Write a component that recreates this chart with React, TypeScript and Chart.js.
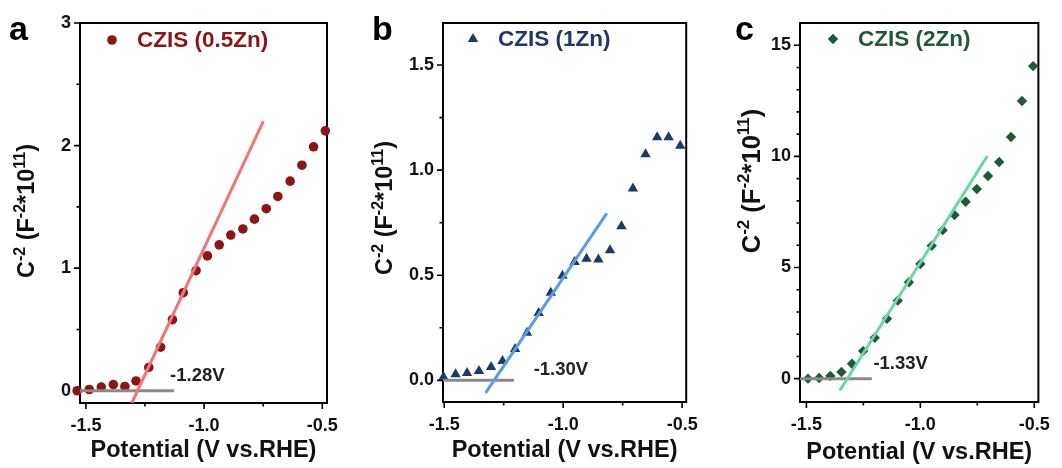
import { useEffect, useRef } from "react";
import { Chart, registerables } from "chart.js";

Chart.register(...registerables);

const FONT = "'Liberation Sans', Arial, Helvetica, sans-serif";

// ---------- Panel a : CZIS (0.5Zn) ----------
const A_POTENTIAL = [-1.537, -1.486, -1.435, -1.384, -1.335, -1.288, -1.234, -1.184, -1.134, -1.088, -1.034, -0.986, -0.936, -0.887, -0.836, -0.787, -0.737, -0.688, -0.636, -0.586, -0.537, -0.487];
const A_C2 = [0.0, 0.01, 0.03, 0.05, 0.035, 0.08, 0.19, 0.355, 0.58, 0.8, 0.98, 1.1, 1.19, 1.27, 1.32, 1.4, 1.485, 1.585, 1.71, 1.84, 1.99, 2.12];
const A_FIT_POTENTIAL = [-1.306, -0.749];
const A_FIT_C2 = [-0.1, 2.2];
const A_BASE_POTENTIAL = [-1.525, -1.127];
const A_BASE_C2 = [0, 0];
const A_X_TICKS = [-1.5, -1.25, -1.0, -0.75, -0.5];
const A_X_LABELS = ["-1.5", "", "-1.0", "", "-0.5"];
const A_Y_TICKS = [0, 0.5, 1, 1.5, 2, 2.5, 3];
const A_Y_LABELS = ["0", "", "1", "", "2", "", "3"];

// ---------- Panel b : CZIS (1Zn) ----------
const B_POTENTIAL = [-1.503, -1.452, -1.404, -1.354, -1.303, -1.255, -1.202, -1.152, -1.103, -1.052, -1.003, -0.952, -0.902, -0.852, -0.803, -0.755, -0.707, -0.654, -0.605, -0.557, -0.508];
const B_C2 = [0.016, 0.029, 0.035, 0.044, 0.063, 0.092, 0.149, 0.227, 0.32, 0.417, 0.498, 0.563, 0.579, 0.575, 0.619, 0.733, 0.913, 1.076, 1.156, 1.156, 1.116];
const B_FIT_POTENTIAL = [-1.326, -0.817];
const B_FIT_C2 = [-0.06, 0.794];
const B_BASE_POTENTIAL = [-1.505, -1.207];
const B_BASE_C2 = [0, 0];
const B_X_TICKS = [-1.5, -1.25, -1.0, -0.75, -0.5];
const B_X_LABELS = ["-1.5", "", "-1.0", "", "-0.5"];
const B_Y_TICKS = [0, 0.25, 0.5, 0.75, 1.0, 1.25, 1.5];
const B_Y_LABELS = ["0.0", "", "0.5", "", "1.0", "", "1.5"];

// ---------- Panel c : CZIS (2Zn) ----------
const C_POTENTIAL = [-1.493, -1.444, -1.395, -1.346, -1.3, -1.251, -1.2, -1.146, -1.099, -1.05, -1.0, -0.95, -0.902, -0.85, -0.801, -0.752, -0.703, -0.654, -0.602, -0.554, -0.505];
const C_C2 = [0, 0.03, 0.12, 0.3, 0.67, 1.24, 1.84, 2.69, 3.51, 4.34, 5.16, 5.98, 6.68, 7.36, 7.96, 8.53, 9.12, 9.75, 10.87, 12.49, 14.06];
const C_FIT_POTENTIAL = [-1.353, -0.706];
const C_FIT_C2 = [-0.53, 10.02];
const C_BASE_POTENTIAL = [-1.528, -1.213];
const C_BASE_C2 = [0, 0];
const C_X_TICKS = [-1.5, -1.25, -1.0, -0.75, -0.5];
const C_X_LABELS = ["-1.5", "", "-1.0", "", "-0.5"];
const C_Y_TICKS = [0, 1, 2, 3, 4, 5, 6, 7, 8, 9, 10, 11, 12, 13, 14, 15];
const C_Y_LABELS = ["0", "", "", "", "", "5", "", "", "", "", "10", "", "", "", "", "15"];

type PanelSpec = {
  letter: string;
  legend: string;
  onset: string;
  onsetAt: [number, number];
  color: string;
  fitColor: string;
  marker: "circle" | "triangle" | "rectRot";
  markerRadius: number;
  xs: number[];
  ys: number[];
  fitX: number[];
  fitY: number[];
  baseX: number[];
  baseY: number[];
  xTicks: number[];
  xLabels: string[];
  yTicks: number[];
  yLabels: string[];
  xMin: number;
  xMax: number;
  yMin: number;
  yMax: number;
  left: number;
  width: number;
  area: { l: number; t: number; r: number; b: number };
  letterPos: [number, number];
  legendPos: [number, number];
  yTitlePos: [number, number];
  yTitleSize: number;
  xTitleY: number;
};

const HEIGHT = 468;
const GRAY = "#8a8a8a";

const PANELS: PanelSpec[] = [
  {
    letter: "a", legend: "CZIS (0.5Zn)", onset: "-1.28V", onsetAt: [-1.144, 0.125],
    color: "#8b1616", fitColor: "#f27575", marker: "circle", markerRadius: 4.8,
    xs: A_POTENTIAL, ys: A_C2, fitX: A_FIT_POTENTIAL, fitY: A_FIT_C2, baseX: A_BASE_POTENTIAL, baseY: A_BASE_C2,
    xTicks: A_X_TICKS, xLabels: A_X_LABELS, yTicks: A_Y_TICKS, yLabels: A_Y_LABELS,
    xMin: -1.525, xMax: -0.48, yMin: -0.1, yMax: 3,
    left: 0, width: 355, area: { l: 80, t: 23, r: 327, b: 403 },
    letterPos: [9, 40], legendPos: [112, 40], yTitlePos: [26, 211], yTitleSize: 23.5, xTitleY: 451,
  },
  {
    letter: "b", legend: "CZIS (1Zn)", onset: "-1.30V", onsetAt: [-1.124, 0.048],
    color: "#1b3a6a", fitColor: "#5b9be6", marker: "triangle", markerRadius: 6,
    xs: B_POTENTIAL, ys: B_C2, fitX: B_FIT_POTENTIAL, fitY: B_FIT_C2, baseX: B_BASE_POTENTIAL, baseY: B_BASE_C2,
    xTicks: B_X_TICKS, xLabels: B_X_LABELS, yTicks: B_Y_TICKS, yLabels: B_Y_LABELS,
    xMin: -1.505, xMax: -0.483, yMin: -0.103, yMax: 1.7,
    left: 355, width: 355, area: { l: 88, t: 23, r: 335, b: 402 },
    letterPos: [17, 40], legendPos: [118, 39], yTitlePos: [29, 208], yTitleSize: 23.5, xTitleY: 451,
  },
  {
    letter: "c", legend: "CZIS (2Zn)", onset: "-1.33V", onsetAt: [-1.206, 0.67],
    color: "#1d5a35", fitColor: "#6bd6a0", marker: "rectRot", markerRadius: 5.2,
    xs: C_POTENTIAL, ys: C_C2, fitX: C_FIT_POTENTIAL, fitY: C_FIT_C2, baseX: C_BASE_POTENTIAL, baseY: C_BASE_C2,
    xTicks: C_X_TICKS, xLabels: C_X_LABELS, yTicks: C_Y_TICKS, yLabels: C_Y_LABELS,
    xMin: -1.528, xMax: -0.482, yMin: -1.05, yMax: 16,
    left: 710, width: 352, area: { l: 90, t: 23, r: 339, b: 402 },
    letterPos: [25, 40], legendPos: [123, 39], yTitlePos: [41, 181], yTitleSize: 25.5, xTitleY: 453,
  },
];

function drawMarker(ctx: CanvasRenderingContext2D, kind: string, x: number, y: number, r: number) {
  ctx.beginPath();
  if (kind === "circle") {
    ctx.arc(x, y, r, 0, Math.PI * 2);
  } else if (kind === "triangle") {
    ctx.moveTo(x, y - r);
    ctx.lineTo(x + 0.866 * r, y + 0.5 * r);
    ctx.lineTo(x - 0.866 * r, y + 0.5 * r);
    ctx.closePath();
  } else {
    ctx.moveTo(x, y - r);
    ctx.lineTo(x + r, y);
    ctx.lineTo(x, y + r);
    ctx.lineTo(x - r, y);
    ctx.closePath();
  }
  ctx.fill();
}

function drawYTitle(ctx: CanvasRenderingContext2D, cx: number, cy: number, size: number) {
  const sup = Math.round(size * 0.66);
  const parts: [string, boolean][] = [
    ["C", false], ["-2", true], [" (F", false], ["-2", true], ["*10", false], ["11", true], [")", false],
  ];
  ctx.save();
  ctx.translate(cx, cy);
  ctx.rotate(-Math.PI / 2);
  ctx.fillStyle = "#111";
  ctx.textBaseline = "alphabetic";
  ctx.textAlign = "left";
  const widths = parts.map(([t, s]) => {
    ctx.font = `bold ${s ? sup : size}px ${FONT}`;
    return ctx.measureText(t).width;
  });
  const total = widths.reduce((a, b) => a + b, 0);
  let x = -total / 2;
  const base = size * 0.36;
  parts.forEach(([t, s], i) => {
    ctx.font = `bold ${s ? sup : size}px ${FONT}`;
    ctx.fillText(t, x, s ? base - size * 0.42 : base);
    x += widths[i];
  });
  ctx.restore();
}

function makeDecor(p: PanelSpec) {
  return {
    id: "decor" + p.letter,
    beforeDatasetsDraw(chart: any) {
      const ctx = chart.ctx as CanvasRenderingContext2D;
      const { left, top, right, bottom } = chart.chartArea;
      const xs = chart.scales.x;
      const ys = chart.scales.y;
      ctx.save();
      ctx.strokeStyle = "#000";
      ctx.lineWidth = 2;
      ctx.strokeRect(left, top, right - left, bottom - top);
      ctx.lineWidth = 1.6;
      ctx.beginPath();
      p.xTicks.forEach((v, i) => {
        const px = xs.getPixelForValue(v);
        const len = p.xLabels[i] ? 6 : 3.5;
        ctx.moveTo(px, bottom);
        ctx.lineTo(px, bottom + len);
      });
      p.yTicks.forEach((v, i) => {
        const py = ys.getPixelForValue(v);
        const len = p.yLabels[i] ? 6 : 3.5;
        ctx.moveTo(left, py);
        ctx.lineTo(left - len, py);
      });
      ctx.stroke();
      ctx.restore();
    },
    afterDraw(chart: any) {
      const ctx = chart.ctx as CanvasRenderingContext2D;
      const { left, right } = chart.chartArea;
      const xs = chart.scales.x;
      const ys = chart.scales.y;
      ctx.save();
      // panel letter
      ctx.fillStyle = "#000";
      ctx.font = `bold 34px ${FONT}`;
      ctx.textAlign = "left";
      ctx.textBaseline = "alphabetic";
      ctx.fillText(p.letter, p.letterPos[0], p.letterPos[1]);
      // legend
      ctx.fillStyle = p.color;
      drawMarker(ctx, p.marker, p.legendPos[0], p.legendPos[1], p.markerRadius);
      ctx.font = `bold 22.5px ${FONT}`;
      ctx.textBaseline = "middle";
      ctx.fillText(p.legend, p.legendPos[0] + 25, p.legendPos[1] + 1);
      // onset label
      ctx.fillStyle = "#222";
      ctx.font = `bold 18.5px ${FONT}`;
      ctx.fillText(p.onset, xs.getPixelForValue(p.onsetAt[0]), ys.getPixelForValue(p.onsetAt[1]));
      // x title
      ctx.fillStyle = "#111";
      ctx.font = `bold 23.5px ${FONT}`;
      ctx.textAlign = "center";
      ctx.fillText("Potential (V vs.RHE)", (left + right) / 2, p.xTitleY);
      ctx.restore();
      drawYTitle(ctx, p.yTitlePos[0], p.yTitlePos[1], p.yTitleSize);
    },
  };
}

function Panel({ p }: { p: PanelSpec }) {
  const ref = useRef<HTMLCanvasElement | null>(null);
  useEffect(() => {
    if (!ref.current) return;
    const toXY = (xv: number[], yv: number[]) => xv.map((x, i) => ({ x, y: yv[i] }));
    const near = (a: number, b: number) => Math.abs(a - b) < 1e-6;
    const chart = new Chart(ref.current, {
      type: "scatter",
      data: {
        datasets: [
          {
            label: p.legend,
            data: toXY(p.xs, p.ys),
            pointStyle: p.marker,
            pointRadius: p.markerRadius,
            backgroundColor: p.color,
            borderColor: p.color,
            pointBorderWidth: 0,
            clip: false,
            order: 3,
          } as any,
          {
            label: "baseline",
            data: toXY(p.baseX, p.baseY),
            showLine: true,
            pointRadius: 0,
            borderColor: GRAY,
            borderWidth: 3,
            clip: false,
            order: 2,
          },
          {
            label: "fit",
            data: toXY(p.fitX, p.fitY),
            showLine: true,
            pointRadius: 0,
            borderColor: p.fitColor,
            borderWidth: 3,
            clip: false,
            order: 1,
          },
        ],
      },
      options: {
        animation: false,
        responsive: false,
        maintainAspectRatio: false,
        events: [],
        layout: { padding: { left: 0, top: p.area.t, right: p.width - p.area.r, bottom: 0 } },
        plugins: { legend: { display: false }, tooltip: { enabled: false } },
        scales: {
          x: {
            type: "linear",
            position: "bottom",
            min: p.xMin,
            max: p.xMax,
            afterFit: (s: any) => { s.height = HEIGHT - p.area.b; },
            afterBuildTicks: (s: any) => { s.ticks = p.xTicks.map((v) => ({ value: v })); },
            grid: { display: false, drawTicks: false },
            border: { display: false },
            ticks: {
              autoSkip: false,
              maxRotation: 0,
              padding: 12,
              color: "#111",
              font: { family: FONT, size: 18, weight: "bold" },
              callback: (v: any) => {
                const i = p.xTicks.findIndex((t) => near(t, Number(v)));
                return i >= 0 ? p.xLabels[i] : "";
              },
            },
          },
          y: {
            type: "linear",
            position: "left",
            min: p.yMin,
            max: p.yMax,
            afterFit: (s: any) => { s.width = p.area.l; },
            afterBuildTicks: (s: any) => { s.ticks = p.yTicks.map((v) => ({ value: v })); },
            grid: { display: false, drawTicks: false },
            border: { display: false },
            ticks: {
              autoSkip: false,
              padding: 9,
              color: "#111",
              font: { family: FONT, size: 18, weight: "bold" },
              callback: (v: any) => {
                const i = p.yTicks.findIndex((t) => near(t, Number(v)));
                return i >= 0 ? p.yLabels[i] : "";
              },
            },
          },
        },
      } as any,
      plugins: [makeDecor(p)],
    });
    return () => chart.destroy();
  }, [p]);
  return (
    <div style={{ position: "absolute", left: p.left, top: 0, width: p.width, height: HEIGHT }}>
      <canvas ref={ref} width={p.width} height={HEIGHT} style={{ width: p.width, height: HEIGHT, display: "block" }} />
    </div>
  );
}

export default function App() {
  return (
    <div style={{ position: "absolute", left: 0, top: 0, width: 1062, height: HEIGHT, background: "#fff" }}>
      {PANELS.map((p) => (
        <Panel key={p.letter} p={p} />
      ))}
    </div>
  );
}
